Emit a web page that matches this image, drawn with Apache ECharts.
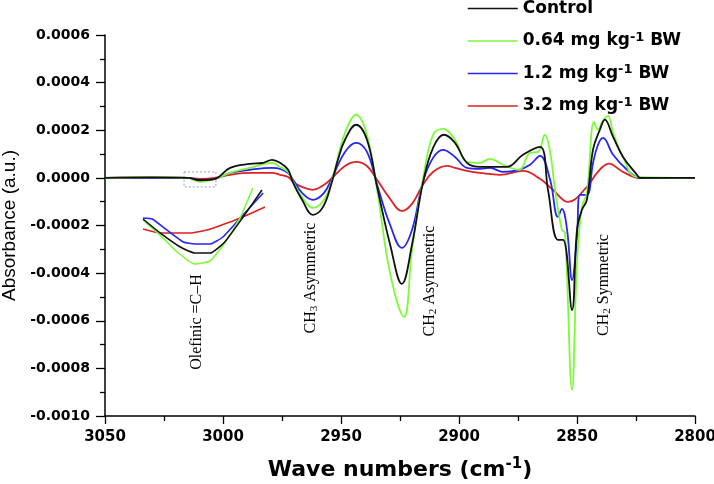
<!DOCTYPE html>
<html>
<head>
<meta charset="utf-8">
<script src="https://cdn.jsdelivr.net/npm/echarts@6/dist/echarts.min.js"></script>
<style>html,body{margin:0;padding:0;background:#fff}#c{width:714px;height:484px}</style>
</head>
<body>
<div id="c"></div>
<script>
// ---- data (absorbance in units of 1e-4, wavenumber in cm-1) ----
const seriesNames = ['Control', '0.64 mg kg-1 BW', '1.2 mg kg-1 BW', '3.2 mg kg-1 BW'];
const colors = ['#111111', '#7dfa3a', '#2626f5', '#dc2222'];

const wnControl = [3050,3030,3015,3009.7,3003.4,2997,2988.6,2983,2979.2,2975.8,2972.4,2970.3,2966.5,2961.9,2957.6,2953.8,2951.3,2948.3,2943.6,2939,2934.7,2929.2,2924.2,2919.9,2915.3,2911,2906.4,2901.7,2896.6,2891.1,2886.9,2879.7,2872.9,2865.7,2862.3,2858.1,2855.9,2852.1,2850,2847.9,2845.8,2843.2,2840.3,2838.2,2834.7,2830.5,2824.6,2823.3,2800];
const absControl = [0,0.02,0,-0.1,-0.04,0.42,0.59,0.63,0.76,0.63,0.34,-0.21,-0.92,-1.55,-1.22,-0.15,0.76,1.6,2.23,1.6,-0.38,-2.8,-4.45,-2.8,-0.21,1.26,1.81,1.47,0.63,0.46,0.46,0.46,0.97,1.30,-0.5,-2.6,-2.6,-5.55,-2.18,-1.34,-0.92,1.2,2.02,2.45,1.72,0.88,0.13,0,0];

const wnDose064 = [3050,3030,3015,3009.7,3003.4,2997,2988.6,2979.2,2975.8,2972.4,2970.3,2966.5,2961.9,2957.2,2953.8,2948.3,2943.6,2939,2934.7,2929.2,2923.3,2919.9,2915.3,2911,2906.8,2901.7,2896.6,2891.1,2886.9,2881.4,2874.6,2869.9,2866.5,2863.6,2861.4,2859.3,2856.4,2855.1,2852.1,2850,2847.9,2845.8,2842.8,2841.1,2839.4,2836.9,2834.7,2830.5,2824.6,2800];
const absDose064 = [-0.02,0.03,0,-0.17,-0.04,0.21,0.42,0.63,0.46,0.25,-0.17,-0.8,-1.26,-0.92,-0.08,1.89,2.65,1.81,-0.5,-4.0,-5.84,-3.0,-0.08,1.81,2.06,1.6,0.67,0.63,0.8,0.55,0.34,1.05,1.09,1.81,1.09,-0.5,-2.18,-2.31,-8.9,-3.57,-1.22,-0.63,2.35,2.02,2.35,2.6,1.89,0.88,0.04,0];

const wnDose12 = [3050,3015,3009.7,3003.4,2997,2988.6,2979.2,2975.8,2972.4,2970.3,2966.5,2961.9,2957.2,2953.8,2948.3,2943.6,2939,2934.7,2929.2,2924.2,2919.9,2915.3,2911,2906.8,2901.7,2896.6,2891.1,2886.9,2881.4,2874.6,2869.9,2865.7,2861.4,2858.1,2856.4,2854.2,2852.1,2850,2848.7,2845.8,2843.2,2841.1,2839,2834.7,2828.8,2823.3,2800];
const absDose12 = [0,0,-0.08,-0.04,0.21,0.34,0.42,0.38,0.2,-0.08,-0.63,-0.92,-0.63,0,1.09,1.47,1.09,-0.29,-1.97,-2.94,-2.18,-0.17,0.84,1.18,0.88,0.42,0.38,0.42,0.25,0.34,0.55,0.92,-0.08,-1.64,-1.3,-2.18,-4.29,-2.48,-0.71,-0.71,0.63,1.39,1.68,0.97,0.34,0,0];

const wnDose32 = [3050,3030,3015,3009.7,3003.4,2997,2988.6,2979.2,2975.8,2972.4,2970.3,2966.5,2961.9,2957.2,2953.8,2948.3,2943.6,2939,2934.7,2929.2,2924.2,2919.9,2915.3,2911,2905.1,2901.7,2896.6,2891.1,2882.6,2872.9,2865.7,2860.2,2853.8,2845.8,2841.5,2836.5,2830.5,2823.3,2800];
const absDose32 = [0,0.02,0,-0.04,0,0.13,0.21,0.21,0.13,0.04,-0.17,-0.38,-0.5,-0.29,0,0.5,0.67,0.5,-0.08,-0.88,-1.39,-1.09,-0.29,0.25,0.5,0.42,0.29,0.21,0.13,0.29,-0.04,-0.5,-1.01,-0.38,0.21,0.6,0.25,0,0];

// inset (magnified olefinic region, absorbance in units of 1e-6)
const insetWnControl = [3015,3012.2,3008.9,3006.5,3004.0,3001.6,2998.6,2995.5];
const insetAbsControl = [-6,-15.3,-24.7,-28.7,-28.7,-21.3,-4.7,13.3];
const insetWnDose064 = [3015,3012.2,3009.4,3006.5,3004,3001.6,2999.1,2997];
const insetAbsDose064 = [-6.7,-16.7,-28,-36,-34,-22,-5.3,14.7];
const insetWnDose12 = [3015,3013.5,3011.1,3008.4,3006.5,3004,3001.9,2998.6,2995.3];
const insetAbsDose12 = [-5.3,-6,-13.3,-21.3,-22.7,-22.7,-18,-3.3,11.3];
const insetWnDose32 = [3015,3012.2,3007.3,3004.5,3001.2,2997.9,2995];
const insetAbsDose32 = [-12.7,-15.3,-15.3,-13.3,-8.7,-3.3,2];

const xTicks = [3050, 3000, 2950, 2900, 2850, 2800];
const yTicks = [0.0006, 0.0004, 0.0002, 0, -0.0002, -0.0004, -0.0006, -0.0008, -0.0010];

// zoom box (wavenumber, absorbance)
const boxWn = [3016.5, 3003];
const boxAbs = [0.000025, -0.000038];

const annotations = [
  {text: '{a|Olefinic =C–H}', x: 197, y: 322},
  {text: '{a|CH}{b|3}{a| Asymmetric}', x: 311, y: 278},
  {text: '{a|CH}{b|2}{a| Asymmetric}', x: 430, y: 281},
  {text: '{a|CH}{b|2}{a| Symmetric}', x: 604, y: 285}
];

// ---- build ----
const zip = (xs, ys, k) => xs.map((x, i) => [x, ys[i] * k]);
const mainSets = [[wnControl, absControl], [wnDose064, absDose064], [wnDose12, absDose12], [wnDose32, absDose32]];
const insetSets = [[insetWnControl, insetAbsControl], [insetWnDose064, insetAbsDose064], [insetWnDose12, insetAbsDose12], [insetWnDose32, insetAbsDose32]];

const series = [];
mainSets.forEach((s, i) => {
  const obj = {
    name: seriesNames[i], type: 'line', xAxisIndex: 0, yAxisIndex: 0,
    data: zip(s[0], s[1], 1e-4), symbol: 'none', showSymbol: false, smooth: 0.4,
    lineStyle: {color: colors[i], width: 1.8}, itemStyle: {color: colors[i]}, z: 10 - i
  };
  if (i === 0) {
    obj.markArea = {
      silent: true,
      itemStyle: {color: 'rgba(0,0,0,0)', borderColor: '#a593dc', borderWidth: 1, borderType: [2, 2]},
      data: [[{coord: [boxWn[0], boxAbs[0]]}, {coord: [boxWn[1], boxAbs[1]]}]]
    };
  }
  series.push(obj);
});
insetSets.forEach((s, i) => {
  series.push({
    name: seriesNames[i], type: 'line', xAxisIndex: 1, yAxisIndex: 1,
    data: zip(s[0], s[1], 1), symbol: 'none', showSymbol: false, smooth: 0.15,
    lineStyle: {color: colors[i], width: 1.6}, itemStyle: {color: colors[i]}, z: 10 - i
  });
});

const tickFont = {fontFamily: 'DejaVu Sans', fontWeight: 'bold', color: '#000'};

const chart = echarts.init(document.getElementById('c'));
chart.setOption({
  animation: false,
  backgroundColor: '#fff',
  legend: {
    data: seriesNames, orient: 'vertical', left: 467, top: 0, padding: 0,
    itemWidth: 50, itemHeight: 14, itemGap: 14,
    itemStyle: {opacity: 0},
    lineStyle: {width: 1.5},
    formatter: n => {
      if (n.indexOf('kg-1') < 0) return '{a|' + n + '}';
      const p = n.split('kg-1');
      return '{a|' + p[0] + 'kg}{s|-1}{a|' + p[1] + '}';
    },
    textStyle: {
      rich: {
        a: {fontFamily: 'DejaVu Sans', fontWeight: 'bold', fontSize: 17, lineHeight: 20, color: '#000'},
        s: {fontFamily: 'DejaVu Sans', fontWeight: 'bold', fontSize: 13, lineHeight: 4, verticalAlign: 'top', color: '#000'}
      }
    }
  },
  grid: [
    {left: 105, right: 19, top: 35, bottom: 68, containLabel: false, outerBoundsMode: 'none'},
    {left: 143, top: 180, width: 122, height: 90, outerBoundsMode: 'none'}
  ],
  xAxis: [
    {
      type: 'value', gridIndex: 0, min: 2800, max: 3050, interval: 50, inverse: true,
      name: '{a|Wave numbers (cm}{s|-1}{a|)}', nameLocation: 'middle', nameGap: 41,
      nameTextStyle: {rich: {
        a: {fontFamily: 'DejaVu Sans', fontWeight: 'bold', fontSize: 22, lineHeight: 26, color: '#000'},
        s: {fontFamily: 'DejaVu Sans', fontWeight: 'bold', fontSize: 15, lineHeight: 6, verticalAlign: 'top', color: '#000'}
      }},
      axisLine: {onZero: false, lineStyle: {color: '#000', width: 1.5}},
      axisTick: {inside: false, length: 8, lineStyle: {color: '#000', width: 1.3}},
      minorTick: {show: true, splitNumber: 2, length: 5, lineStyle: {color: '#000', width: 1.3}},
      axisLabel: Object.assign({fontSize: 15, margin: 14, formatter: v => xTicks.indexOf(v) >= 0 ? String(v) : ''}, tickFont),
      splitLine: {show: false}
    },
    {
      type: 'value', gridIndex: 1, min: 2995, max: 3015, inverse: true, show: false,
      axisLine: {show: false}, axisTick: {show: false}, axisLabel: {show: false}, splitLine: {show: false}
    }
  ],
  yAxis: [
    {
      type: 'value', gridIndex: 0, min: -0.001, max: 0.0006, interval: 0.0002,
      name: 'Absorbance (a.u.)', nameLocation: 'middle', nameGap: 82, nameRotate: 90,
      nameTextStyle: {fontFamily: 'Liberation Sans', fontSize: 19, color: '#000'},
      axisLine: {onZero: false, lineStyle: {color: '#000', width: 1.5}},
      axisTick: {inside: false, length: 9, lineStyle: {color: '#000', width: 1.3}},
      minorTick: {show: true, splitNumber: 2, length: 5, lineStyle: {color: '#000', width: 1.3}},
      axisLabel: Object.assign({fontSize: 14, margin: 15, formatter: v => v.toFixed(4)}, tickFont),
      splitLine: {show: false}
    },
    {
      type: 'value', gridIndex: 1, min: -40, max: 20, show: false,
      axisLine: {show: false}, axisTick: {show: false}, axisLabel: {show: false}, splitLine: {show: false}
    }
  ],
  graphic: annotations.map(a => ({
    type: 'text', x: a.x, y: a.y, rotation: Math.PI / 2, z: 100,
    style: {
      text: a.text, align: 'center', verticalAlign: 'middle', textAlign: 'center', textVerticalAlign: 'middle',
      rich: {
        a: {fontFamily: 'Liberation Serif', fontSize: 16, lineHeight: 18, fill: '#000', color: '#000'},
        b: {fontFamily: 'Liberation Serif', fontSize: 11, lineHeight: 10, verticalAlign: 'bottom', fill: '#000', color: '#000'}
      }
    }
  })),
  series: series
});
</script>
</body>
</html>
